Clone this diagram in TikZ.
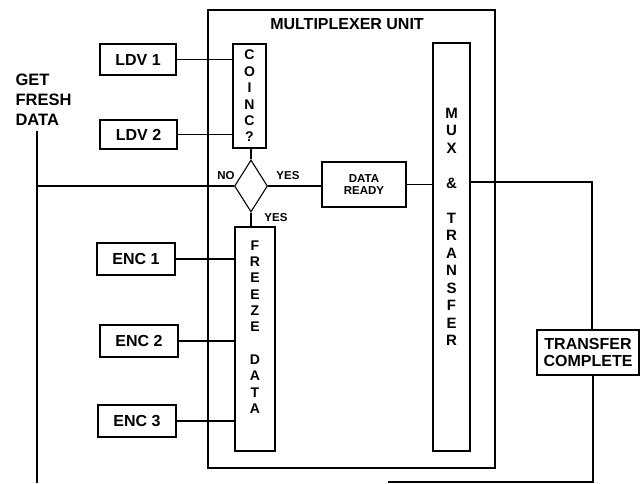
\documentclass[tikz,border=0pt]{standalone}
\usepackage{fontspec}
\setmainfont{Liberation Sans}
\usetikzlibrary{shapes.geometric}

\begin{document}
\begin{tikzpicture}[x=1pt, y=-1pt, line width=1.1pt,
    blk/.style={draw, inner sep=0pt, font=\fontsize{16}{17}\selectfont\bfseries},
    tall/.style={draw, inner sep=0pt},
    vtxt/.style={align=center, inner sep=0pt, font=\fontsize{14}{16.4}\selectfont\bfseries},
    lbl/.style={inner sep=0pt, font=\fontsize{11.5}{12}\selectfont\bfseries}]
    \useasboundingbox (0,0) rectangle (640,483);
    % Multiplexer unit frame
    \node[draw, minimum width=287, minimum height=458] (unit) at (351.5,239) {};
    \node[blk, draw=none] (title) at (347,24) {MULTIPLEXER UNIT};
    % Inputs
    \node[blk, minimum width=76, minimum height=31] (ldv1) at (138,59.5) {LDV 1};
    \node[blk, minimum width=77, minimum height=29] (ldv2) at (138.5,134.5) {LDV 2};
    \foreach \n/\x/\y in {1/136/259, 2/139/341, 3/137/421}
        \node[blk, minimum width=78, minimum height=32] (enc\n) at (\x,\y) {ENC \n};
    % Coincidence check and decision
    \node[tall, minimum width=33, minimum height=104] (coinc) at (249.5,96) {};
    \node[vtxt] (coinct) at (249.5,96) {C\\O\\I\\N\\C\\?};
    \node[draw, diamond, inner sep=0pt, minimum width=33, minimum height=52] (dia) at (251,186) {};
    \node[lbl] (no) at (226,176) {NO};
    \node[lbl] (yes1) at (288,176) {YES};
    \node[lbl] (yes2) at (276,218) {YES};
    \node[draw, align=center, inner sep=0pt, minimum width=84, minimum height=45,
        font=\fontsize{11.5}{12.5}\selectfont\bfseries] (dr) at (364,184.5) {DATA\\READY};
    % Freeze and mux blocks
    \node[tall, minimum width=40, minimum height=224] (frz) at (255,339) {};
    \node[vtxt, font=\fontsize{14}{16.3}\selectfont\bfseries] (frzt) at (255,327) {F\\R\\E\\E\\Z\\E\\[16.3pt]D\\A\\T\\A};
    \node[tall, minimum width=37, minimum height=408] (mux) at (451.5,247) {};
    \node[vtxt, font=\fontsize{15}{17.5}\selectfont\bfseries] (muxt) at (451.5,227) {M\\U\\X\\[17.5pt]\&\\[17.5pt]T\\R\\A\\N\\S\\F\\E\\R};
    \node[draw, align=center, inner sep=0pt, minimum width=102, minimum height=45,
        font=\fontsize{16}{17}\selectfont\bfseries] (tc) at (588,352.5) {TRANSFER\\COMPLETE};
    \node[align=left, anchor=north west, inner sep=0pt,
        font=\fontsize{16.5}{20}\selectfont\bfseries] (gfd) at (15,73) {GET\\FRESH\\DATA};
    % Connections
    \draw (ldv1.east) -- (ldv1.east -| coinc.west);
    \draw (ldv2.east) -- (ldv2.east -| coinc.west);
    \foreach \n in {1,2,3}
        \draw (enc\n.east) -- (enc\n.east -| frz.west);
    \draw (dia.north |- coinc.south) -- (dia.north);
    \draw (dia.south) -- (frz.north -| dia.south);
    \draw (dia.east) -- (dia.east -| dr.west);
    \draw (dr.east) -- (dr.east -| mux.west);
    % Loop back
    \coordinate (gtop) at (37,131);
    \coordinate (gbot) at (37,483);
    \draw (gtop) -- (gbot);
    \draw (dia.west) -- (dia.west -| gtop);
    \coordinate (rtop) at (592,182);
    \coordinate (rbot) at (593,482);
    \coordinate (bend) at (388,482);
    \draw (mux.east |- rtop) -- (rtop) -- (tc.north -| rtop);
    \draw (tc.south -| rbot) -- (rbot) -- (bend);
\end{tikzpicture}
\end{document}
